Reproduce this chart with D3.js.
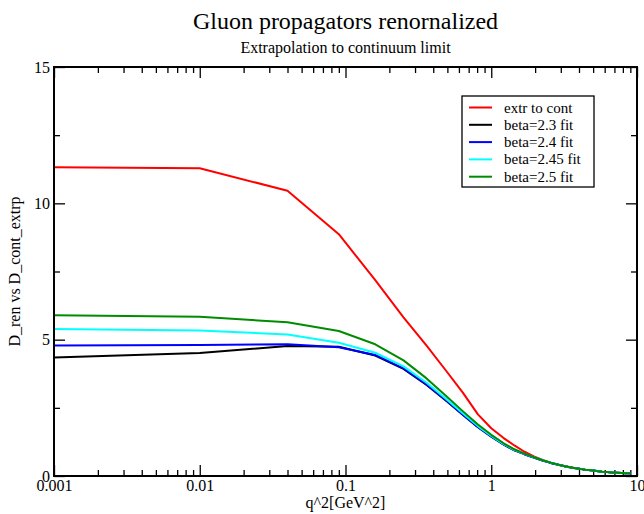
<!DOCTYPE html>
<html>
<head>
<meta charset="utf-8">
<script src="https://cdn.jsdelivr.net/npm/d3@7"></script>
<style>
  body { margin: 0; background: #fff; }
  svg text { font-family: "Liberation Serif", "Times New Roman", serif; fill: #000; }
</style>
</head>
<body>
<div id="chart"></div>
<script>
// q^2 grid where the curves have their kinks
const q2 = [0.001, 0.01, 0.04, 0.09, 0.16, 0.25, 0.36, 0.49, 0.64, 0.81, 1.0,
  1.21, 1.44, 1.69, 1.96, 2.25, 2.56, 2.89, 3.24, 3.61, 4.0, 4.41, 4.84, 5.29,
  5.76, 6.25, 6.76, 7.29, 7.84, 8.41, 9.0];

const extrCont = [11.32, 11.29, 10.46, 8.87, 7.18, 5.82, 4.78, 3.86, 3.05, 2.26, 1.75,
  1.40, 1.12, 0.89, 0.72, 0.59, 0.49, 0.41, 0.36, 0.31, 0.27, 0.23, 0.21, 0.18,
  0.16, 0.15, 0.13, 0.12, 0.11, 0.10, 0.10];
const beta23 = [4.35, 4.51, 4.77, 4.74, 4.42, 3.93, 3.34, 2.76, 2.24, 1.79, 1.44,
  1.16, 0.94, 0.80, 0.68, 0.57, 0.48, 0.41, 0.35, 0.30, 0.27, 0.23, 0.21, 0.18,
  0.16, 0.15, 0.13, 0.12, 0.11, 0.10, 0.10];
const beta24 = [4.79, 4.80, 4.83, 4.72, 4.44, 3.95, 3.36, 2.78, 2.25, 1.80, 1.45,
  1.17, 0.95, 0.80, 0.68, 0.57, 0.48, 0.41, 0.35, 0.30, 0.27, 0.23, 0.21, 0.18,
  0.16, 0.15, 0.13, 0.12, 0.11, 0.10, 0.10];
const beta245 = [5.39, 5.34, 5.19, 4.89, 4.52, 4.02, 3.42, 2.82, 2.29, 1.83, 1.47,
  1.18, 0.96, 0.81, 0.69, 0.58, 0.49, 0.41, 0.35, 0.30, 0.27, 0.23, 0.21, 0.18,
  0.16, 0.15, 0.13, 0.12, 0.11, 0.10, 0.10];
const beta25 = [5.90, 5.84, 5.64, 5.32, 4.83, 4.24, 3.58, 2.93, 2.37, 1.89, 1.51,
  1.21, 0.98, 0.82, 0.69, 0.58, 0.49, 0.41, 0.35, 0.30, 0.27, 0.23, 0.21, 0.18,
  0.16, 0.15, 0.13, 0.12, 0.11, 0.10, 0.10];

const seriesNames = ["extr to cont", "beta=2.3 fit", "beta=2.4 fit", "beta=2.45 fit", "beta=2.5 fit"];
const seriesValues = [extrCont, beta23, beta24, beta245, beta25];
const seriesColors = ["#ff0000", "#000000", "#0000ff", "#00ffff", "#008b00"];

const xTickValues = [0.001, 0.01, 0.1, 1, 10];
const xTickLabels = ["0.001", "0.01", "0.1", "1", "10"];
const yTickValues = [0, 5, 10, 15];

// Layout
const W = 644, H = 514;
const margin = { top: 67, right: 7, bottom: 38, left: 54 };
const width = W - margin.left - margin.right;
const height = H - margin.top - margin.bottom;

const svg = d3.select("#chart").append("svg")
  .attr("width", W)
  .attr("height", H);

const g = svg.append("g")
  .attr("transform", `translate(${margin.left},${margin.top})`);

const x = d3.scaleLog().domain([0.001, 10]).range([0, width]);
const y = d3.scaleLinear().domain([0, 15]).range([height, 0]);

// minor ticks: 2..9 in each decade, and half steps on y
const xMinor = [];
[0.001, 0.01, 0.1, 1].forEach((dec) => {
  for (let k = 2; k <= 9; k++) xMinor.push(dec * k);
});
const yMinor = [2.5, 7.5, 12.5];

const tickStyle = (sel) => {
  sel.select(".domain").remove();
  sel.selectAll("line").attr("stroke", "#000").attr("stroke-width", 1.3);
};

// bottom axis (ticks point inward)
g.append("g")
  .attr("transform", `translate(0,${height})`)
  .call(d3.axisBottom(x).tickValues(xMinor).tickSize(-6).tickFormat(""))
  .call(tickStyle);
g.append("g")
  .attr("transform", `translate(0,${height})`)
  .call(d3.axisBottom(x).tickValues(xTickValues).tickSize(-11).tickPadding(4)
    .tickFormat((d, i) => xTickLabels[i]))
  .call(tickStyle)
  .selectAll("text").style("font-size", "16px");

// top axis mirror
g.append("g")
  .call(d3.axisTop(x).tickValues(xMinor).tickSize(-6).tickFormat(""))
  .call(tickStyle);
g.append("g")
  .call(d3.axisTop(x).tickValues(xTickValues).tickSize(-11).tickFormat(""))
  .call(tickStyle);

// left axis
g.append("g")
  .call(d3.axisLeft(y).tickValues(yMinor).tickSize(-6).tickFormat(""))
  .call(tickStyle);
g.append("g")
  .call(d3.axisLeft(y).tickValues(yTickValues).tickSize(-11).tickPadding(4)
    .tickFormat(d3.format("d")))
  .call(tickStyle)
  .selectAll("text").style("font-size", "16px");

// right axis mirror
g.append("g")
  .attr("transform", `translate(${width},0)`)
  .call(d3.axisRight(y).tickValues(yMinor).tickSize(-6).tickFormat(""))
  .call(tickStyle);
g.append("g")
  .attr("transform", `translate(${width},0)`)
  .call(d3.axisRight(y).tickValues(yTickValues).tickSize(-11).tickFormat(""))
  .call(tickStyle);

// curves
const line = d3.line()
  .x((d) => x(d[0]))
  .y((d) => y(d[1]));

seriesValues.forEach((vals, i) => {
  g.append("path")
    .datum(q2.map((q, j) => [q, vals[j]]))
    .attr("fill", "none")
    .attr("stroke", seriesColors[i])
    .attr("stroke-width", 2)
    .attr("stroke-linejoin", "round")
    .attr("d", line);
});

// frame
g.append("rect")
  .attr("width", width)
  .attr("height", height)
  .attr("fill", "none")
  .attr("stroke", "#000")
  .attr("stroke-width", 2);

// legend
const legend = svg.append("g").attr("transform", "translate(462,96)");
legend.append("rect")
  .attr("width", 132)
  .attr("height", 91)
  .attr("fill", "#fff")
  .attr("stroke", "#000")
  .attr("stroke-width", 1.3);
seriesNames.forEach((name, i) => {
  const ly = 11.5 + i * 17.3;
  legend.append("line")
    .attr("x1", 7).attr("x2", 30)
    .attr("y1", ly).attr("y2", ly)
    .attr("stroke", seriesColors[i])
    .attr("stroke-width", 2);
  legend.append("text")
    .attr("x", 42).attr("y", ly + 5)
    .style("font-size", "15px")
    .text(name);
});

// titles
svg.append("text")
  .attr("x", margin.left + width / 2)
  .attr("y", 29)
  .attr("text-anchor", "middle")
  .style("font-size", "24px")
  .text("Gluon propagators renornalized");

svg.append("text")
  .attr("x", margin.left + width / 2)
  .attr("y", 53)
  .attr("text-anchor", "middle")
  .style("font-size", "16px")
  .text("Extrapolation to continuum limit");

// axis labels
svg.append("text")
  .attr("x", margin.left + width / 2)
  .attr("y", 508)
  .attr("text-anchor", "middle")
  .style("font-size", "16px")
  .text("q^2[GeV^2]");

svg.append("text")
  .attr("transform", `translate(20,${margin.top + height / 2}) rotate(-90)`)
  .attr("text-anchor", "middle")
  .style("font-size", "16px")
  .text("D_ren vs D_cont_extrp");
</script>
</body>
</html>
